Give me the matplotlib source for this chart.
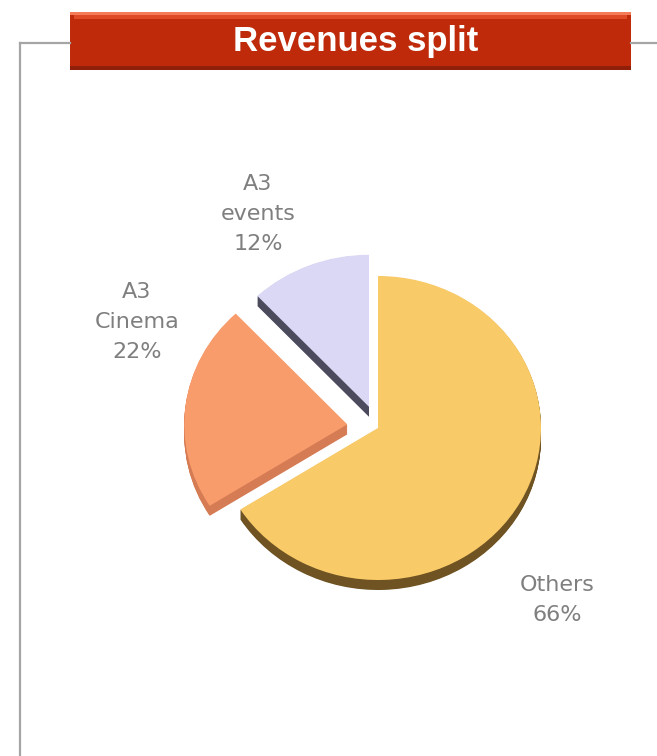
import numpy as np
import matplotlib.pyplot as plt
from matplotlib.patches import Rectangle

# data
categories = ["Others", "A3 Cinema", "A3 events"]
shares = [66, 22, 12]
label_texts = ["Others\n66%", "A3\nCinema\n22%", "A3\nevents\n12%"]
explode = [0.0, 0.19, 0.15]

top_colors = ["#F9CA68", "#F99C6C", "#DAD8F4"]
side_colors = ["#6F5322", "#D57C55", "#4C4B5D"]

W, H = 657, 756
fig = plt.figure(figsize=(W / 100, H / 100), dpi=100)

# pie axes: center at (378, 428) px, rx 163 px, ry 152 px
cx, cy, rx, ry = 378, 428, 163, 152
ax = fig.add_axes([(cx - 1.5 * rx) / W, (H - cy - 1.5 * ry) / H, 3 * rx / W, 3 * ry / H])

depth = 10 / ry
n_layers = 14
for k in range(n_layers, 0, -1):
    ax.pie(shares, explode=explode, colors=side_colors, startangle=90,
           counterclock=False, center=(0, -depth * k / n_layers),
           wedgeprops=dict(linewidth=0))
ax.pie(shares, explode=explode, colors=top_colors, startangle=90,
       counterclock=False, wedgeprops=dict(linewidth=0))
ax.set_aspect("auto")
ax.set_xlim(-1.5, 1.5)
ax.set_ylim(-1.5, 1.5)
ax.axis("off")

# overlay in pixel coordinates: frame, title bar, labels
ov = fig.add_axes([0, 0, 1, 1])
ov.set_xlim(0, W)
ov.set_ylim(H, 0)
ov.axis("off")

frame_col = "#A5A5A5"
ov.plot([20, 20], [43, H], color=frame_col, lw=1.6)
ov.plot([20, 70], [43, 43], color=frame_col, lw=1.6)
ov.plot([631, W], [43, 43], color=frame_col, lw=1.6)

# title bar with a simple bevel
ov.add_patch(Rectangle((70, 12), 561, 58, facecolor="#BE2A0A", edgecolor="none"))
ov.add_patch(Rectangle((70, 12), 561, 3, facecolor="#F47A58", edgecolor="none"))
ov.add_patch(Rectangle((74, 15), 553, 4, facecolor="#DE4A26", edgecolor="none"))
ov.add_patch(Rectangle((70, 66), 561, 4, facecolor="#8F1F08", edgecolor="none"))
ov.text(356, 42, "Revenues split", color="white", fontsize=25, fontweight="bold",
        family="Liberation Sans", ha="center", va="center")

label_pos = [(557, 600), (137, 322), (258, 214)]
for txt, (lx, ly) in zip(label_texts, label_pos):
    ov.text(lx, ly, txt, color="#7F7F7F", fontsize=16, ha="center", va="center",
            multialignment="center", linespacing=1.65)

fig.savefig("out.png", dpi=100)
